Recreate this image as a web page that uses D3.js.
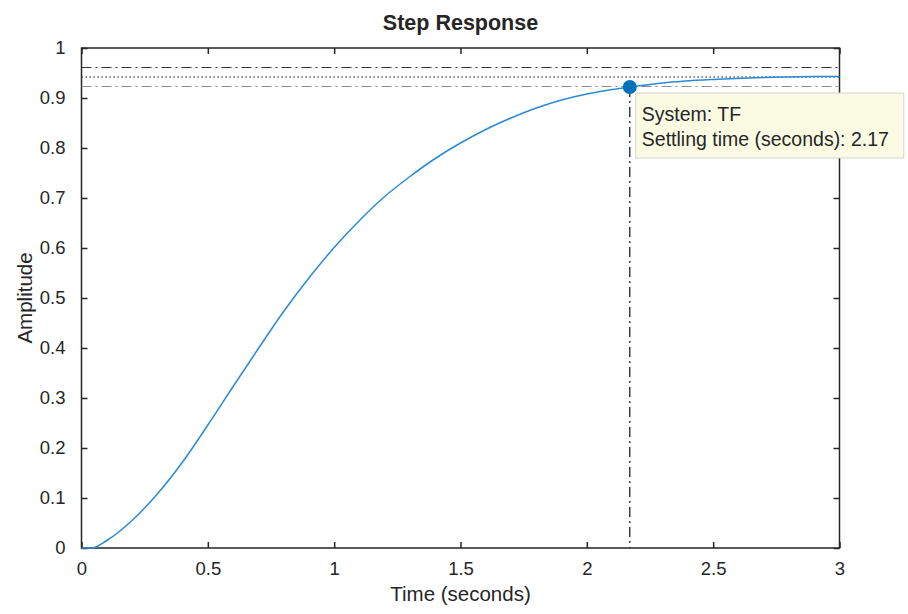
<!DOCTYPE html>
<html>
<head>
<meta charset="utf-8">
<script src="https://cdn.jsdelivr.net/npm/d3@7"></script>
<style>
  body { margin: 0; background: #fff; }
  text { font-family: "Liberation Sans", Arial, sans-serif; fill: #262626; }
</style>
</head>
<body>
<script>
// step response
var times = [0, 0.04, 0.1, 0.2, 0.3, 0.4, 0.5, 0.6, 0.7, 0.8, 0.9, 1.0, 1.1, 1.2, 1.3, 1.4,
             1.5, 1.6, 1.7, 1.8, 1.9, 2.0, 2.1, 2.17, 2.3, 2.5, 2.7, 2.9, 3.0];
var amps = [0, 0, 0.015, 0.055, 0.108, 0.172, 0.246, 0.323, 0.399, 0.473, 0.540, 0.601, 0.655,
            0.703, 0.743, 0.779, 0.810, 0.837, 0.860, 0.880, 0.896, 0.908, 0.917, 0.922, 0.930,
            0.937, 0.941, 0.943, 0.943];
var xTicks = [0, 0.5, 1, 1.5, 2, 2.5, 3];
var yTicks = [0, 0.1, 0.2, 0.3, 0.4, 0.5, 0.6, 0.7, 0.8, 0.9, 1];
var finalValue = 0.942;
var bandUpper = 0.961;
var bandLower = 0.923;
var settleTime = 2.17;
var settleAmp = 0.922;
var tipLines = ["System: TF", "Settling time (seconds): 2.17"];

var svg = d3.select("body")
    .append("svg")
    .attr("width", "908")
    .attr("height", "614")
    .style('display', 'block');

margin = {top: 48, right: 68.5, bottom: 66, left: 81.5};
width = +svg.attr("width") - margin.left - margin.right;
height = +svg.attr("height") - margin.top - margin.bottom;

g = svg.append("g").attr("transform", "translate(" + margin.left + "," + margin.top + ")");

var x = d3.scaleLinear().domain([0, 3]).range([0, width]);
var y = d3.scaleLinear().domain([0, 1]).range([height, 0]);

// axes box
g.append("rect")
    .attr("width", width)
    .attr("height", height)
    .attr("fill", "none")
    .attr("stroke", "#262626")
    .attr("stroke-width", 1.5);

var xAxis = d3.axisBottom(x).tickValues(xTicks).tickSize(-6).tickPadding(14)
    .tickFormat(d3.format("~g"));
var yAxis = d3.axisLeft(y).tickValues(yTicks).tickSize(-6).tickPadding(16)
    .tickFormat(d3.format("~g"));
var xTop = d3.axisTop(x).tickValues(xTicks).tickSize(-6).tickFormat("");
var yRight = d3.axisRight(y).tickValues(yTicks).tickSize(-6).tickFormat("");

function styleAxis(a) {
    a.select(".domain").remove();
    a.selectAll("line").attr("stroke", "#262626").attr("stroke-width", 1.5);
    a.selectAll("text").style("font-size", "18.5px").attr("fill", "#262626");
}

g.append("g").attr("transform", "translate(0," + height + ")").call(xAxis).call(styleAxis);
g.append("g").call(yAxis).call(styleAxis);
g.append("g").call(xTop).call(styleAxis);
g.append("g").attr("transform", "translate(" + width + ",0)").call(yRight).call(styleAxis);

// settling band and final value
g.append("line")
    .attr("x1", 0).attr("x2", width)
    .attr("y1", y(bandUpper)).attr("y2", y(bandUpper))
    .attr("stroke", "#333").attr("stroke-width", 1.2)
    .attr("stroke-dasharray", "10,4,2,4");
g.append("line")
    .attr("x1", 0).attr("x2", width)
    .attr("y1", y(finalValue)).attr("y2", y(finalValue))
    .attr("stroke", "#444").attr("stroke-width", 1.3)
    .attr("stroke-dasharray", "1.3,2.7");
g.append("line")
    .attr("x1", 0).attr("x2", width)
    .attr("y1", y(bandLower)).attr("y2", y(bandLower))
    .attr("stroke", "#8a8a8a").attr("stroke-width", 1.2)
    .attr("stroke-dasharray", "10,4,2,4");

// settling time marker line
g.append("line")
    .attr("x1", x(settleTime)).attr("x2", x(settleTime))
    .attr("y1", y(settleAmp)).attr("y2", height)
    .attr("stroke", "#111").attr("stroke-width", 1.2)
    .attr("stroke-dasharray", "10,4,2,4");

var line = d3.line()
    .x(function(d, i) { return x(times[i]); })
    .y(function(d) { return y(d); })
    .curve(d3.curveMonotoneX);

g.append("path")
    .datum(amps)
    .attr("d", line)
    .attr("fill", "none")
    .attr("stroke", "#2a8ad5")
    .attr("stroke-width", 1.5);

g.append("circle")
    .attr("cx", x(settleTime))
    .attr("cy", y(settleAmp))
    .attr("r", 7)
    .attr("fill", "#0072bd");

// data tip
var tip = g.append("g").attr("transform", "translate(" + (x(settleTime) + 6) + "," + (y(settleAmp) + 6) + ")");
tip.append("rect")
    .attr("width", 268)
    .attr("height", 65)
    .attr("fill", "#fbfbe4")
    .attr("stroke", "#d4d4d4")
    .attr("stroke-width", 1);
tip.selectAll("text.tip")
    .data(tipLines)
    .enter()
    .append("text")
    .attr("class", "tip")
    .attr("x", 6)
    .attr("y", function(d, i) { return 28 + i * 25; })
    .style("font-size", "19.5px")
    .text(function(d) { return d; });

svg.append("text")
    .attr("x", margin.left + width / 2)
    .attr("y", 30)
    .attr("text-anchor", "middle")
    .style("font-size", "21.5px")
    .style("font-weight", "bold")
    .attr("fill", "#000")
    .text("Step Response");

svg.append("text")
    .attr("x", margin.left + width / 2)
    .attr("y", 601)
    .attr("text-anchor", "middle")
    .style("font-size", "20.5px")
    .text("Time (seconds)");

svg.append("text")
    .attr("transform", "translate(32," + (margin.top + height / 2) + ") rotate(-90)")
    .attr("text-anchor", "middle")
    .style("font-size", "20.5px")
    .text("Amplitude");
</script>
</body>
</html>
